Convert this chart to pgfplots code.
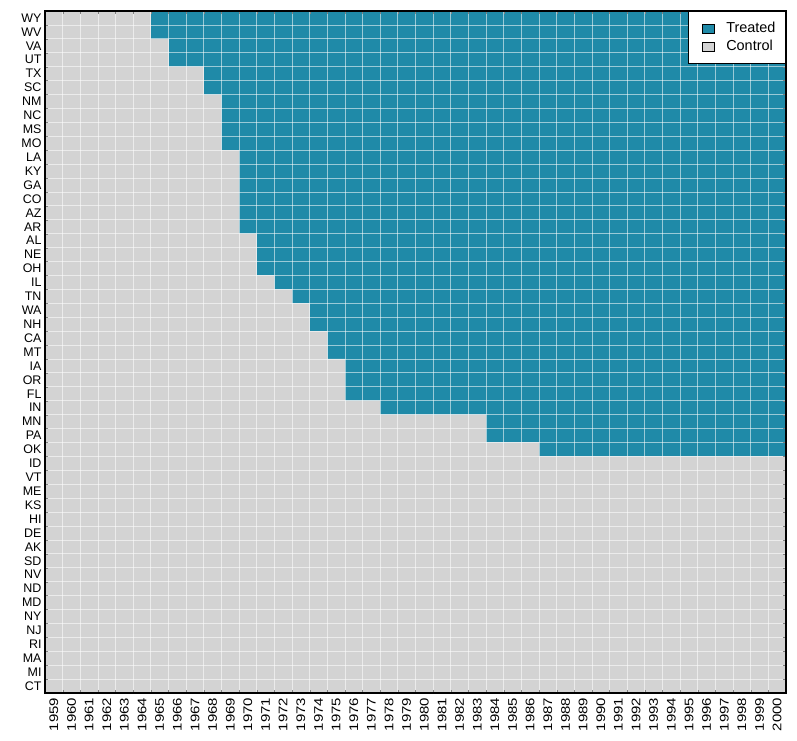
\documentclass[border=0pt]{standalone}
\usepackage{pgfplots}
\pgfplotsset{compat=1.18}
\usepackage{pgfplotstable}
\usepackage{fontspec}
\setmainfont{Liberation Sans}
\definecolor{treated}{RGB}{31,138,168}
\definecolor{control}{RGB}{211,211,211}

% row = position from the top, ctrl = years untreated, treat = years treated (1959-2000)
\pgfplotstableread{
row state ctrl treat
0  WY 6  36
1  WV 6  36
2  VA 7  35
3  UT 7  35
4  TX 9  33
5  SC 9  33
6  NM 10 32
7  NC 10 32
8  MS 10 32
9  MO 10 32
10 LA 11 31
11 KY 11 31
12 GA 11 31
13 CO 11 31
14 AZ 11 31
15 AR 11 31
16 AL 12 30
17 NE 12 30
18 OH 12 30
19 IL 13 29
20 TN 14 28
21 WA 15 27
22 NH 15 27
23 CA 16 26
24 MT 16 26
25 IA 17 25
26 OR 17 25
27 FL 17 25
28 IN 19 23
29 MN 25 17
30 PA 25 17
31 OK 28 14
32 ID 42 0
33 VT 42 0
34 ME 42 0
35 KS 42 0
36 HI 42 0
37 DE 42 0
38 AK 42 0
39 SD 42 0
40 NV 42 0
41 ND 42 0
42 MD 42 0
43 NY 42 0
44 NJ 42 0
45 RI 42 0
46 MA 42 0
47 MI 42 0
48 CT 42 0
}\panel

\begin{document}
\begin{tikzpicture}
\begin{axis}[
    scale only axis,
    width=741bp, height=682bp,
    xbar stacked, bar width=1, bar shift=0pt,
    y dir=reverse,
    xmin=0, xmax=42, ymin=-0.5, ymax=48.5,
    xtick={0.5,1.5,...,41.5},
    xticklabels={1959,1960,1961,1962,1963,1964,1965,1966,1967,1968,1969,1970,1971,1972,1973,1974,1975,1976,1977,1978,1979,1980,1981,1982,1983,1984,1985,1986,1987,1988,1989,1990,1991,1992,1993,1994,1995,1996,1997,1998,1999,2000},
    ytick={0,...,48},
    yticklabels from table={\panel}{state},
    x tick label style={rotate=90, xscale=1.2, anchor=east, inner xsep=4bp, font=\fontsize{12.5}{14}\selectfont},
    y tick label style={font=\fontsize{12.5}{14}\selectfont},
    major tick length=0pt,
    minor xtick={1,...,41},
    minor ytick={0.5,1.5,...,47.5},
    minor grid style={white, opacity=0.55, line width=0.8pt},
    xminorgrids, yminorgrids,
    axis on top,
    axis line style={black, line width=1.3pt},
    legend style={at={(1,1)}, anchor=north east, draw=black, line width=1pt,
        font=\fontsize{14.5}{17}\selectfont, inner xsep=8bp, inner ysep=9bp,
        row sep=2bp, column sep=10bp, nodes={inner sep=2bp}, cells={anchor=west}},
    legend image code/.code={\path (0bp,0bp);\draw[#1, draw=black, line width=0.6pt] (5bp,-4.5bp) rectangle (17bp,4.5bp);},
]
\addlegendimage{fill=treated}
\addlegendentry{Treated}
\addlegendimage{fill=control}
\addlegendentry{Control}
\addplot[fill=control, draw=none, forget plot] table[x=ctrl, y=row] {\panel};
\addplot[fill=treated, draw=none, forget plot] table[x=treat, y=row] {\panel};
\coordinate (sw) at (rel axis cs:0,0);
\coordinate (ne) at (rel axis cs:1,1);
\end{axis}
\path (sw) ++(-45bp,-47bp) coordinate (bl);
\path (ne) ++(11bp,11bp) coordinate (tr);
\path (bl) rectangle (tr);
\end{tikzpicture}
\end{document}
